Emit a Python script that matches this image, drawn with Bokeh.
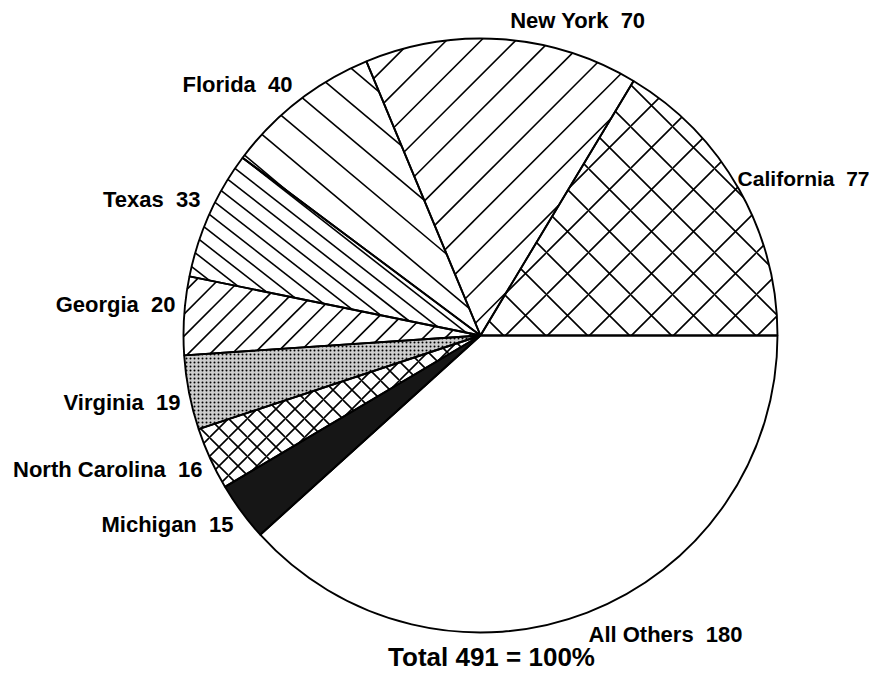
import math
from bokeh.plotting import figure
from bokeh.models import Range1d
from bokeh.core.properties import value
from bokeh.embed import file_html
from bokeh.resources import INLINE

# ---- data ----
states = ["California", "New York", "Florida", "Texas", "Georgia",
          "Virginia", "North Carolina", "Michigan", "All Others"]
counts = [77, 70, 40, 33, 20, 19, 16, 15, 180]
total_text = "Total 491 = 100%"

# ---- styles (per slice) ----
# kind: "x" = built-in cross hatch, "." = stipple, "lines" = parallel line hatch, None = plain
hatch_kind = ["x", "lines", "lines", "lines", "lines", ".", "x", None, None]
hatch_scale = [42, None, None, None, None, 4, 19, None, None]
line_angle = [None, 45, -40, -38, 45, None, None, None, None]      # degrees, screen up = +
line_gap = [None, 24.5, 27, 13, 15.5, None, None, None, None]      # perpendicular spacing, px
fills = ["white", "white", "white", "white", "white", "#cdcdcd", "white", "#161616", "white"]

# label anchors (picture pixels, baseline) and alignment
label_pos = [(869, 186), (645, 28), (292, 92), (200, 207), (175, 312),
             (180, 410), (202, 477), (233, 532), (588, 642)]
label_align = ["right"] * 8 + ["left"]
label_size = ["21px"] + ["22px"] * 8
BASE_SHIFT = 8  # svg text renders slightly below the requested baseline

W, H = 872, 674


def fy(py):
    return H - py


p = figure(width=W, height=H, x_range=Range1d(0, W), y_range=Range1d(0, H),
           output_backend="svg", toolbar_location=None, min_border=0,
           x_axis_type=None, y_axis_type=None)
p.grid.visible = False
p.outline_line_color = None
p.background_fill_color = "white"
p.border_fill_color = "white"

cx, cy, r = 480, fy(335), 297
total = sum(counts)


def cross(ax, ay, bx, by):
    return ax * by - ay * bx


def hatch_segments(a0, a1, ang_deg, gap):
    th = math.radians(ang_deg)
    ux, uy = math.cos(th), math.sin(th)
    nx, ny = -uy, ux
    d0 = (math.cos(a0), math.sin(a0))
    d1 = (math.cos(a1), math.sin(a1))
    xs, ys = [], []
    k = -int(r / gap) - 1
    while k * gap <= r:
        off = k * gap + gap * 0.5
        k += 1
        if abs(off) >= r:
            continue
        h = math.sqrt(r * r - off * off)
        lo, hi = -h, h
        ok = True
        for (A, B) in ((off * cross(d0[0], d0[1], nx, ny), cross(d0[0], d0[1], ux, uy)),
                       (off * cross(nx, ny, d1[0], d1[1]), cross(ux, uy, d1[0], d1[1]))):
            if abs(B) < 1e-12:
                if A < 0:
                    ok = False
            elif B > 0:
                lo = max(lo, -A / B)
            else:
                hi = min(hi, -A / B)
        if ok and hi > lo:
            xs.append([cx + nx * off + ux * lo, cx + nx * off + ux * hi])
            ys.append([cy + ny * off + uy * lo, cy + ny * off + uy * hi])
    return xs, ys


cum = 0.0
angles = []
for i, c in enumerate(counts):
    a0 = cum / total * 2 * math.pi
    cum += c
    a1 = cum / total * 2 * math.pi
    angles.append((a0, a1))
    kw = {}
    if hatch_kind[i] in ("x", "."):
        kw = dict(hatch_pattern=hatch_kind[i], hatch_scale=hatch_scale[i],
                  hatch_color="black", hatch_weight=1.6 if hatch_kind[i] == "x" else 1.0)
    p.wedge(x=cx, y=cy, radius=r, start_angle=a0, end_angle=a1,
            fill_color=fills[i], line_color=None, **kw)
    if hatch_kind[i] == "lines":
        xs, ys = hatch_segments(a0, a1, line_angle[i], line_gap[i])
        p.multi_line(xs=xs, ys=ys, line_color="black", line_width=1.6)

for (a0, a1) in angles:
    p.wedge(x=cx, y=cy, radius=r, start_angle=a0, end_angle=a1,
            fill_color=None, line_color="black", line_width=1.9)

for i, (name, c) in enumerate(zip(states, counts)):
    lx, ly = label_pos[i]
    p.text(x=[lx], y=[fy(ly - BASE_SHIFT)], text=[f"{name}\u00a0\u00a0{c}"],
           text_font=value("Liberation Sans"), text_font_style="bold",
           text_font_size=label_size[i], text_align=label_align[i],
           text_baseline="alphabetic", text_color="black")

p.text(x=[491], y=[fy(656)], text=[total_text], text_font=value("Liberation Sans"),
       text_font_style="bold", text_font_size="26px", text_align="center",
       text_baseline="alphabetic", text_color="black")

open("out.html", "w").write(file_html(p, INLINE))
